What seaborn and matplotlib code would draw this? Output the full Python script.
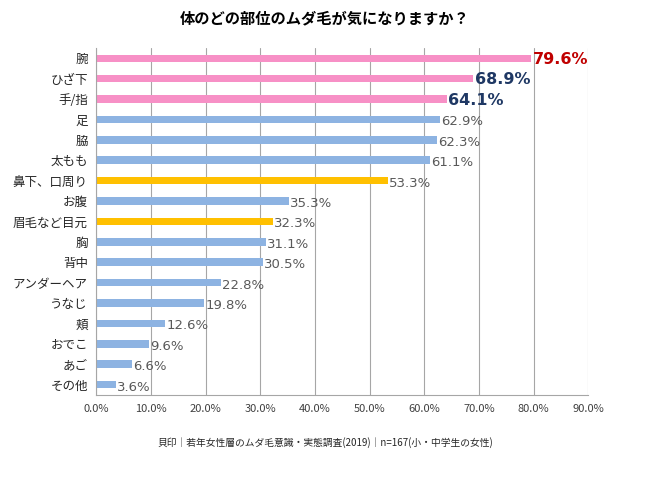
import numpy as np
import pandas as pd
import matplotlib.pyplot as plt
import seaborn as sns

# Data
parts = ['腕', 'ひざ下', '手/指', '足', '脇', '太もも', '鼻下、口周り', 'お腹', '眉毛など目元',
         '胸', '背中', 'アンダーヘア', 'うなじ', '頬', 'おでこ', 'あご', 'その他']
rates = [79.6, 68.9, 64.1, 62.9, 62.3, 61.1, 53.3, 35.3, 32.3,
         31.1, 30.5, 22.8, 19.8, 12.6, 9.6, 6.6, 3.6]
groups = ['top', 'top', 'top', 'other', 'other', 'other', 'face', 'other', 'face',
          'other', 'other', 'other', 'other', 'other', 'other', 'other', 'other']
xticks = [0, 10, 20, 30, 40, 50, 60, 70, 80, 90]

df = pd.DataFrame({'part': parts, 'rate': rates, 'group': groups})

sns.set_style('white')
plt.rcParams['font.family'] = ['Noto Sans CJK JP', 'DejaVu Sans']

fig = plt.figure(figsize=(6.5, 4.91), dpi=100)
ax = fig.add_axes([0.148, 0.196, 0.757, 0.706])

palette = {'top': '#F790C6', 'other': '#8DB3E2', 'face': '#FFC000'}
sns.barplot(data=df, y='part', x='rate', hue='group', palette=palette,
            dodge=False, width=0.37, legend=False, ax=ax, saturation=1,
            linewidth=0)

ax.set_xlim(0, 90)
ax.set_ylim(len(parts) - 0.5, -0.5)
ax.set_xticks(xticks)
ax.set_xticklabels([f'{t:.1f}%' for t in xticks], fontsize=8, color='#404040')
ax.xaxis.grid(True, color='#A6A6A6', linewidth=0.8)
ax.set_axisbelow(True)
ax.set_xlabel('')
ax.set_ylabel('')

# y tick labels at categories, tick marks between categories
ax.set_yticks(range(len(parts)))
ax.set_yticklabels(parts, fontsize=9, color='#262626')
ax.tick_params(axis='y', length=0, pad=6)
ax.set_yticks(np.arange(len(parts) + 1) - 0.5, minor=True)
ax.tick_params(axis='y', which='minor', length=4, color='#A6A6A6', direction='out')
ax.tick_params(axis='x', length=4, color='#A6A6A6', direction='out', pad=3)

for s in ['top', 'right']:
    ax.spines[s].set_visible(False)
for s in ['left', 'bottom']:
    ax.spines[s].set_color('#A6A6A6')
    ax.spines[s].set_linewidth(0.8)

# value labels
for i, v in enumerate(rates):
    if i == 0:
        ax.text(v + 0.3, i + 0.05, f'{v}%', va='center', ha='left', fontsize=11.5,
                fontweight='bold', color='#C00000', family='DejaVu Sans')
    elif i in (1, 2):
        ax.text(v + 0.3, i + 0.05, f'{v}%', va='center', ha='left', fontsize=11.5,
                fontweight='bold', color='#1F3864', family='DejaVu Sans')
    else:
        ax.text(v + 0.2, i + 0.12, f'{v}%', va='center', ha='left', fontsize=9.5,
                color='#595959', family='DejaVu Sans')

fig.text(0.5, 0.963, '体のどの部位のムダ毛が気になりますか？', ha='center', va='center',
         fontsize=11, fontweight='bold', color='#000000')
fig.text(0.5, 0.098, '貝印｜若年女性層のムダ毛意識・実態調査(2019)｜n=167(小・中学生の女性)',
         ha='center', va='center', fontsize=7, color='#262626')

plt.savefig('out.png', dpi=100)
